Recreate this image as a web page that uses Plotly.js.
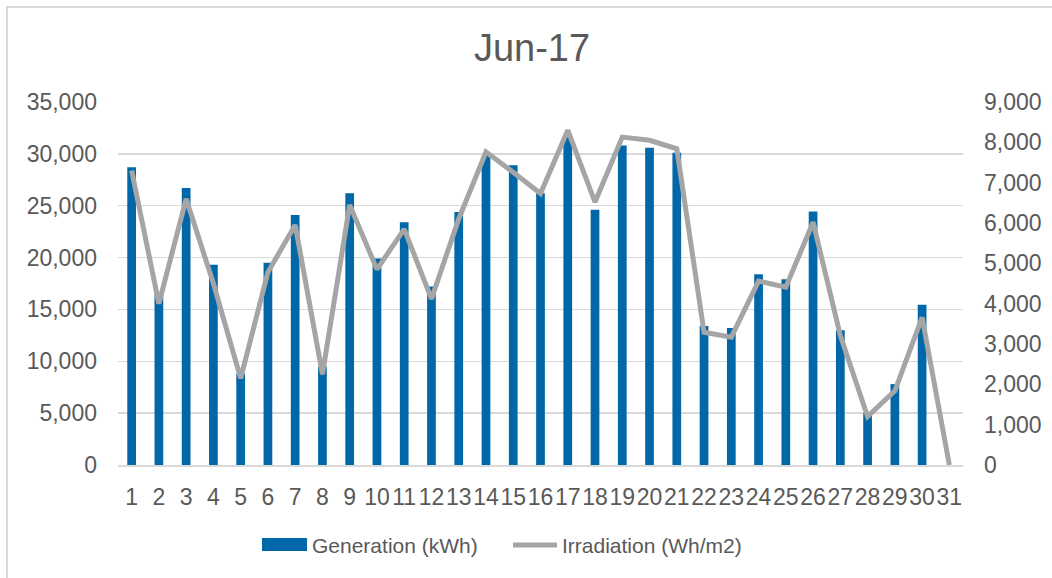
<!DOCTYPE html>
<html>
<head>
<meta charset="utf-8">
<script src="https://cdn.plot.ly/plotly-3.0.1.min.js"></script>
<style>
  html, body { margin: 0; padding: 0; background: #fff; overflow: hidden; }
  #chart { width: 1052px; height: 578px; position: relative; }
  #frame { position: absolute; left: 6px; top: 6px; width: 2000px; height: 2000px;
           border: 2px solid #d9d9d9; pointer-events: none; z-index: 10; }
</style>
</head>
<body>
<div id="chart"></div>
<div id="frame"></div>
<script>
const days = Array.from({length: 31}, (_, i) => i + 1);
const dayLabels = days.map(String);
const generation = [28700, 16500, 26700, 19300, 8800, 19500, 24100, 9500, 26200, 19900,
                    23400, 17200, 24400, 29800, 28900, 26200, 31600, 24600, 30800, 30600,
                    30100, 13400, 13200, 18400, 17900, 24450, 13000, 5000, 7800, 15450, 0];
const irradiation = [7300, 4000, 6600, 4500, 2150, 4780, 5950, 2250, 6450, 4850,
                     5850, 4120, 6100, 7760, 7260, 6730, 8300, 6520, 8130, 8050,
                     7840, 3290, 3170, 4560, 4410, 6020, 3210, 1200, 1840, 3660, 0];
const leftTicks = [0, 5000, 10000, 15000, 20000, 25000, 30000, 35000];
const rightTicks = [0, 1000, 2000, 3000, 4000, 5000, 6000, 7000, 8000, 9000];
const seriesNames = ['Generation (kWh)', 'Irradiation (Wh/m2)'];
const titleText = 'Jun-17';

const W = 1052, H = 578;
const ml = 118, mr = 89, mt = 102, mb = 113;
const pw = W - ml - mr, ph = H - mt - mb;
const px = x => (x - ml) / pw;         // pixel -> paper x
const py = y => (H - mb - y) / ph;     // pixel -> paper y

const txtColor = '#595959';
const font = 'Liberation Sans, Arial, sans-serif';

const traces = [
  {
    type: 'bar', x: days, y: generation, name: seriesNames[0],
    marker: { color: '#0068A8' }, width: 0.32, showlegend: false, hoverinfo: 'x+y'
  },
  {
    type: 'scatter', mode: 'lines', x: days, y: irradiation, name: seriesNames[1],
    yaxis: 'y2', line: { color: '#A5A5A5', width: 5 }, showlegend: false
  }
];

const layout = {
  width: W, height: H,
  margin: { l: ml, r: mr, t: mt, b: mb, pad: 0 },
  paper_bgcolor: '#fff', plot_bgcolor: '#fff',
  font: { family: font, color: txtColor, size: 23 },
  title: { text: titleText, font: { size: 38, color: txtColor, family: font },
           x: 532 / W, xanchor: 'center', xref: 'container', y: 1 - 48 / H, yanchor: 'middle', yref: 'container' },
  showlegend: false,
  xaxis: {
    range: [0.5, 31.5], tickmode: 'array', tickvals: days, ticktext: dayLabels,
    tickangle: 0, showgrid: false, zeroline: false,
    showline: true, linecolor: '#d9d9d9', linewidth: 2,
    ticks: '', ticklabelstandoff: 10, tickfont: { size: 23, color: txtColor }
  },
  yaxis: {
    range: [0, 35000], tickmode: 'array', tickvals: leftTicks, tickformat: ',',
    showgrid: true, gridcolor: '#d9d9d9', gridwidth: 1.5, zeroline: false,
    showline: false, ticks: '', ticklabelstandoff: 20, tickfont: { size: 23, color: txtColor }
  },
  yaxis2: {
    range: [0, 9000], tickmode: 'array', tickvals: rightTicks, tickformat: ',',
    overlaying: 'y', side: 'right', showgrid: false, zeroline: false,
    showline: false, ticks: '', ticklabelstandoff: 20, tickfont: { size: 23, color: txtColor }
  },
  shapes: [
    { type: 'rect', xref: 'paper', yref: 'paper', x0: px(262), x1: px(307), y0: py(551), y1: py(538),
      fillcolor: '#0068A8', line: { width: 0 } },
    { type: 'line', xref: 'paper', yref: 'paper', x0: px(513), x1: px(557), y0: py(545), y1: py(545),
      line: { color: '#A5A5A5', width: 5 } }
  ],
  annotations: [
    { xref: 'paper', yref: 'paper', x: px(310), y: py(545), xanchor: 'left', yanchor: 'middle',
      text: seriesNames[0], showarrow: false, font: { size: 21, color: txtColor, family: font } },
    { xref: 'paper', yref: 'paper', x: px(560), y: py(545), xanchor: 'left', yanchor: 'middle',
      text: seriesNames[1], showarrow: false, font: { size: 21, color: txtColor, family: font } }
  ]
};

Plotly.newPlot('chart', traces, layout, { displayModeBar: false, staticPlot: true });
</script>
</body>
</html>
